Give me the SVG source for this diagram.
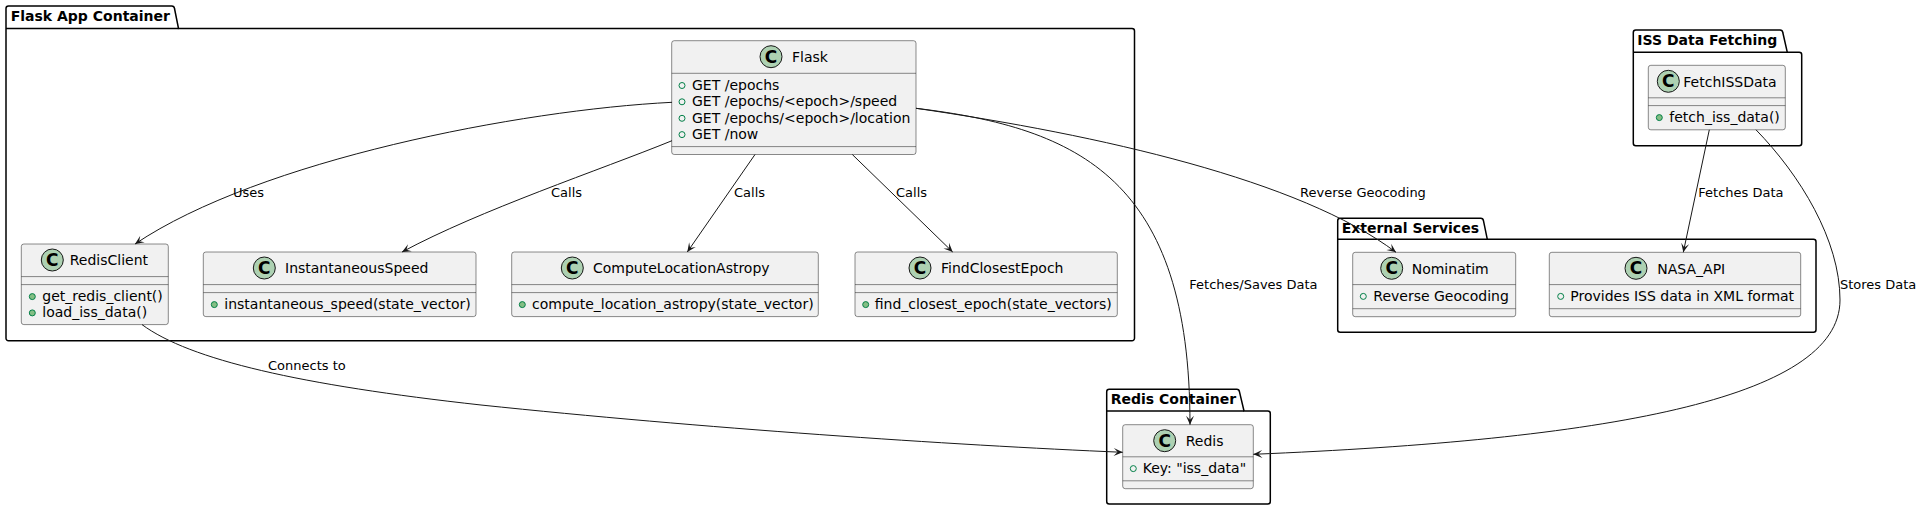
<svg xmlns="http://www.w3.org/2000/svg" width="1923" height="510" viewBox="0 0 1923 510">
<style>
text{font-family:"DejaVu Sans","Liberation Sans",sans-serif;fill:#000000}
.pkg{fill:none;stroke:#000000;stroke-width:1.5}
.pt{font-size:14px;font-weight:bold}
.box{fill:#F1F1F1;stroke:#181818;stroke-width:0.5}
.sep{stroke:#181818;stroke-width:0.5}
.spot{fill:#ADD1B2;stroke:#181818;stroke-width:1}
.spotc{font-size:17px;font-weight:bold;text-anchor:middle}
.cn{font-size:14px}
.mb{font-size:14px}
.fld{fill:none;stroke:#038048;stroke-width:1}
.mth{fill:#84BE84;stroke:#038048;stroke-width:1}
.lnk{fill:none;stroke:#181818;stroke-width:1}
.lbl{font-size:13px}
</style>
<defs>
<marker id="arr" viewBox="-10 -5 11 10" refX="0" refY="0" markerWidth="11" markerHeight="10" markerUnits="userSpaceOnUse" orient="auto">
<path d="M0,0 L-9,-4 L-5,0 L-9,4 Z" fill="#181818"/>
</marker>
</defs>
<rect width="1923" height="510" fill="#FFFFFF"/>

<g id="pkg-flask-app-container">
<path class="pkg" d="M8.5,6 L171.7,6 A3,3 0 0 1 174.5,8.5 L178.5,28.5 L1132,28.5 A2.5,2.5 0 0 1 1134.5,31 L1134.5,338.2 A2.5,2.5 0 0 1 1132,340.7 L8.5,340.7 A2.5,2.5 0 0 1 6,338.2 L6,8.5 A2.5,2.5 0 0 1 8.5,6 Z"/>
<line class="pkg" x1="6" y1="28.5" x2="178.5" y2="28.5"/>
<text class="pt" x="10.7" y="21">Flask App Container</text>
</g>

<g id="pkg-iss-data-fetching">
<path class="pkg" d="M1635.8,30 L1780,30 A3,3 0 0 1 1782.8,32.5 L1787.3,52.3 L1799.2,52.3 A2.5,2.5 0 0 1 1801.7,54.8 L1801.7,143.2 A2.5,2.5 0 0 1 1799.2,145.7 L1635.8,145.7 A2.5,2.5 0 0 1 1633.3,143.2 L1633.3,32.5 A2.5,2.5 0 0 1 1635.8,30 Z"/>
<line class="pkg" x1="1633.3" y1="52.3" x2="1787.3" y2="52.3"/>
<text class="pt" x="1637.3" y="45">ISS Data Fetching</text>
</g>

<g id="pkg-external-services">
<path class="pkg" d="M1340.2,218.3 L1480.7,218.3 A3,3 0 0 1 1483.5,220.8 L1487.3,239.3 L1813.5,239.3 A2.5,2.5 0 0 1 1816,241.8 L1816,329.8 A2.5,2.5 0 0 1 1813.5,332.3 L1340.2,332.3 A2.5,2.5 0 0 1 1337.7,329.8 L1337.7,220.8 A2.5,2.5 0 0 1 1340.2,218.3 Z"/>
<line class="pkg" x1="1337.7" y1="239.3" x2="1487.3" y2="239.3"/>
<text class="pt" x="1341.7" y="233">External Services</text>
</g>

<g id="pkg-redis-container">
<path class="pkg" d="M1109.2,389.3 L1236.7,389.3 A3,3 0 0 1 1239.5,391.8 L1244,411 L1267.8,411 A2.5,2.5 0 0 1 1270.3,413.5 L1270.3,501.5 A2.5,2.5 0 0 1 1267.8,504 L1109.2,504 A2.5,2.5 0 0 1 1106.7,501.5 L1106.7,391.8 A2.5,2.5 0 0 1 1109.2,389.3 Z"/>
<line class="pkg" x1="1106.7" y1="411" x2="1244" y2="411"/>
<text class="pt" x="1110.7" y="404.3">Redis Container</text>
</g>

<g id="node-flask">
<rect class="box" x="671.7" y="40.7" width="244.3" height="113.8" rx="2.5"/>
<circle class="spot" cx="771" cy="56.7" r="11"/>
<text class="spotc" x="771" y="62.7">C</text>
<text class="cn" x="792" y="62">Flask</text>
<line class="sep" x1="671.7" y1="73.3" x2="916" y2="73.3"/>
<circle class="fld" cx="682" cy="85.5" r="3"/>
<text class="mb" x="692" y="90">GET /epochs</text>
<circle class="fld" cx="682" cy="101.8" r="3"/>
<text class="mb" x="692" y="106.3">GET /epochs/&lt;epoch&gt;/speed</text>
<circle class="fld" cx="682" cy="118.3" r="3"/>
<text class="mb" x="692" y="122.8">GET /epochs/&lt;epoch&gt;/location</text>
<circle class="fld" cx="682" cy="134.6" r="3"/>
<text class="mb" x="692" y="139.1">GET /now</text>
<line class="sep" x1="671.7" y1="146.6" x2="916" y2="146.6"/>
</g>

<g id="node-redisclient">
<rect class="box" x="21.3" y="244" width="147" height="80.6" rx="2.5"/>
<circle class="spot" cx="52.3" cy="260" r="11"/>
<text class="spotc" x="52.3" y="266">C</text>
<text class="cn" x="69.7" y="265.3">RedisClient</text>
<line class="sep" x1="21.3" y1="276.6" x2="168.3" y2="276.6"/>
<line class="sep" x1="21.3" y1="284.6" x2="168.3" y2="284.6"/>
<circle class="mth" cx="32.3" cy="296.6" r="3"/>
<text class="mb" x="42.3" y="301.1">get_redis_client()</text>
<circle class="mth" cx="32.3" cy="312.9" r="3"/>
<text class="mb" x="42.3" y="317.4">load_iss_data()</text>
</g>

<g id="node-instantaneousspeed">
<rect class="box" x="203.3" y="252" width="272.7" height="64.6" rx="2.5"/>
<circle class="spot" cx="264.3" cy="268" r="11"/>
<text class="spotc" x="264.3" y="274">C</text>
<text class="cn" x="285" y="273.3">InstantaneousSpeed</text>
<line class="sep" x1="203.3" y1="284.6" x2="476" y2="284.6"/>
<line class="sep" x1="203.3" y1="292.6" x2="476" y2="292.6"/>
<circle class="mth" cx="214.3" cy="304.6" r="3"/>
<text class="mb" x="224.3" y="309.1">instantaneous_speed(state_vector)</text>
</g>

<g id="node-computelocationastropy">
<rect class="box" x="511.7" y="252" width="306.6" height="64.6" rx="2.5"/>
<circle class="spot" cx="572.3" cy="268" r="11"/>
<text class="spotc" x="572.3" y="274">C</text>
<text class="cn" x="593" y="273.3">ComputeLocationAstropy</text>
<line class="sep" x1="511.7" y1="284.6" x2="818.3" y2="284.6"/>
<line class="sep" x1="511.7" y1="292.6" x2="818.3" y2="292.6"/>
<circle class="mth" cx="522.3" cy="304.6" r="3"/>
<text class="mb" x="532" y="309.1">compute_location_astropy(state_vector)</text>
</g>

<g id="node-findclosestepoch">
<rect class="box" x="855" y="252" width="262.3" height="64.6" rx="2.5"/>
<circle class="spot" cx="920" cy="268" r="11"/>
<text class="spotc" x="920" y="274">C</text>
<text class="cn" x="941" y="273.3">FindClosestEpoch</text>
<line class="sep" x1="855" y1="284.6" x2="1117.3" y2="284.6"/>
<line class="sep" x1="855" y1="292.6" x2="1117.3" y2="292.6"/>
<circle class="mth" cx="865.7" cy="304.6" r="3"/>
<text class="mb" x="874.7" y="309.1">find_closest_epoch(state_vectors)</text>
</g>

<g id="node-fetchissdata">
<rect class="box" x="1648.3" y="65.3" width="137" height="64.5" rx="2.5"/>
<circle class="spot" cx="1668.3" cy="81.3" r="11"/>
<text class="spotc" x="1668.3" y="87.3">C</text>
<text class="cn" x="1683.3" y="86.6">FetchISSData</text>
<line class="sep" x1="1648.3" y1="97.8" x2="1785.3" y2="97.8"/>
<line class="sep" x1="1648.3" y1="105.6" x2="1785.3" y2="105.6"/>
<circle class="mth" cx="1659.3" cy="117.6" r="3"/>
<text class="mb" x="1669.3" y="122.1">fetch_iss_data()</text>
</g>

<g id="node-nominatim">
<rect class="box" x="1352.7" y="252.3" width="163" height="64.4" rx="2.5"/>
<circle class="spot" cx="1391.7" cy="268.3" r="11"/>
<text class="spotc" x="1391.7" y="274.3">C</text>
<text class="cn" x="1411.7" y="273.6">Nominatim</text>
<line class="sep" x1="1352.7" y1="284.6" x2="1515.7" y2="284.6"/>
<circle class="fld" cx="1363.3" cy="296.4" r="3"/>
<text class="mb" x="1373.3" y="300.9">Reverse Geocoding</text>
<line class="sep" x1="1352.7" y1="308.7" x2="1515.7" y2="308.7"/>
</g>

<g id="node-nasa-api">
<rect class="box" x="1549.3" y="252.3" width="251.4" height="64.4" rx="2.5"/>
<circle class="spot" cx="1636" cy="268.3" r="11"/>
<text class="spotc" x="1636" y="274.3">C</text>
<text class="cn" x="1657.3" y="273.6">NASA_API</text>
<line class="sep" x1="1549.3" y1="284.6" x2="1800.7" y2="284.6"/>
<circle class="fld" cx="1560.7" cy="296.4" r="3"/>
<text class="mb" x="1570.3" y="300.9">Provides ISS data in XML format</text>
<line class="sep" x1="1549.3" y1="308.7" x2="1800.7" y2="308.7"/>
</g>

<g id="node-redis">
<rect class="box" x="1122.7" y="424.7" width="130.6" height="64" rx="2.5"/>
<circle class="spot" cx="1164.7" cy="440.7" r="11"/>
<text class="spotc" x="1164.7" y="446.7">C</text>
<text class="cn" x="1185.7" y="446">Redis</text>
<line class="sep" x1="1122.7" y1="456.8" x2="1253.3" y2="456.8"/>
<circle class="fld" cx="1133.3" cy="468.6" r="3"/>
<text class="mb" x="1142.7" y="473.1">Key: "iss_data"</text>
<line class="sep" x1="1122.7" y1="480.8" x2="1253.3" y2="480.8"/>
</g>

<g id="connectors">
<path class="lnk" marker-end="url(#arr)" d="M672,102.3 C520,110 260,160 135,244"/>
<text class="lbl" x="233" y="197">Uses</text>
<path class="lnk" marker-end="url(#arr)" d="M672,140.7 C600,170 480,210 402,252"/>
<text class="lbl" x="551" y="197">Calls</text>
<path class="lnk" marker-end="url(#arr)" d="M755,154.5 L687.3,252"/>
<text class="lbl" x="734" y="197">Calls</text>
<path class="lnk" marker-end="url(#arr)" d="M852.3,154.5 L952.7,252"/>
<text class="lbl" x="896" y="197">Calls</text>
<path class="lnk" marker-end="url(#arr)" d="M916,108.3 C1080,128 1190,180 1190,424.7"/>
<text class="lbl" x="1189.3" y="289">Fetches/Saves Data</text>
<path class="lnk" marker-end="url(#arr)" d="M916,108.3 C1100,135 1300,180 1396,252.3"/>
<text class="lbl" x="1300" y="197">Reverse Geocoding</text>
<path class="lnk" marker-end="url(#arr)" d="M142,324.6 C190,360 300,385 481,405 C700,428 950,445 1122.7,452.3"/>
<text class="lbl" x="268" y="370">Connects to</text>
<path class="lnk" marker-end="url(#arr)" d="M1709.3,129.8 L1683.3,252.3"/>
<text class="lbl" x="1698.3" y="197">Fetches Data</text>
<path class="lnk" marker-end="url(#arr)" d="M1756,129.8 C1800,175 1840,240 1840,300 C1840,400 1600,440 1253.3,454.3"/>
<text class="lbl" x="1840" y="289">Stores Data</text>
</g>
</svg>
